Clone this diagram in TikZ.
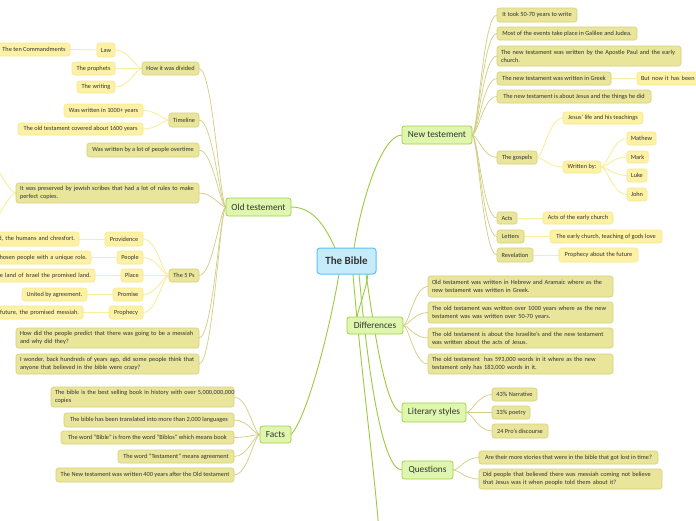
\documentclass[tikz,border=0pt]{standalone}
\usepackage{fontspec}
\setmainfont{Carlito}
\usetikzlibrary{calc,backgrounds}
\definecolor{txt}{HTML}{333333}
\definecolor{bFill}{HTML}{C6ECFB}
\definecolor{bDraw}{HTML}{5CC3EE}
\definecolor{gFill}{HTML}{DEF6AD}
\definecolor{gDraw}{HTML}{A5D14B}
\definecolor{oFill}{HTML}{E9E59B}
\definecolor{oDraw}{HTML}{D6D17A}
\definecolor{yFill}{HTML}{FDF1A6}
\definecolor{yDraw}{HTML}{F7E98F}
\definecolor{cGreen}{HTML}{9CCB3E}
\definecolor{cOlive}{HTML}{D2CD82}
\definecolor{cYel}{HTML}{F9EE9C}
\newcommand\mm[7]{\node[#1, minimum width={#5-#3}, minimum height={#6-#4}] (#2) at ({(#3+#5)/2},{(#4+#6)/2}) {#7};}
\newcommand\mmt[7]{\pgfmathsetmacro\mmw{#5-#3-8}\node[text width=\mmw pt, align=left, minimum height={#6-#4}, #1] (#2) at ({(#3+#5)/2},{(#4+#6)/2}) {#7};}
\begin{document}
\begin{tikzpicture}[x=1pt,y=-1pt,
  box/.style={rounded corners=2.5pt, outer sep=0pt, inner xsep=4pt, inner ysep=1pt, text=txt, line width=0.6pt},
  bible/.style={box, fill=bFill, draw=bDraw, line width=1pt, rounded corners=3pt, font=\fontsize{11}{13}\selectfont\bfseries},
  l1/.style={box, fill=gFill, draw=gDraw, line width=0.8pt, font=\fontsize{9.3}{11}\selectfont},
  l2/.style={box, fill=oFill, draw=oDraw, font=\fontsize{6.3}{8}\selectfont},
  l3/.style={box, fill=yFill, draw=yDraw, font=\fontsize{6.3}{8}\selectfont},
  c1/.style={draw=cGreen, line width=0.9pt},
  c2/.style={draw=cOlive, line width=0.7pt},
  c3/.style={draw=cYel, line width=0.9pt}]
\useasboundingbox (0,0) rectangle (696,520);
% centre and main branches
\mm{bible}{bible}{317}{248}{376}{274}{The Bible}
\mm{l1}{old}{226}{198}{291}{216}{Old testement}
\mm{l1}{new}{402}{126}{472}{144}{New testement}
\mm{l1}{diff}{347}{317}{403}{334}{Differences}
\mm{l1}{lit}{402}{403}{466}{422}{Literary styles}
\mm{l1}{ques}{402}{461}{453}{479}{Questions}
\mm{l1}{facts}{260}{426}{291}{443}{Facts}
% old testament
\mm{l2}{div}{142}{62}{199}{75}{How it was divided}
\mm{l2}{time}{169}{113}{199}{127}{Timeline}
\mm{l2}{many}{87}{143}{199}{157}{Was written by a lot of people overtime}
\mmt{l2}{pres}{16}{183}{199}{203}{\mbox{It was preserved by jewish scribes that had a lot of rules to make}\\perfect copies.}
\mm{l2}{fiveP}{169}{269}{199}{282}{The 5 Ps}
\mmt{l2}{pred}{16}{328}{199}{348}{\mbox{How did the people predict that there was going to be a messiah}\\and why did they?}
\mmt{l2}{wond}{16}{354}{199}{374}{\mbox{I wonder, back hundreds of years ago, did some people think that}\\anyone that believed in the bible were crazy?}
\mm{l3}{law}{97}{43}{115}{57}{Law}
\mm{l3}{tencmd}{-2}{43}{70}{56}{The ten Commandments}
\mm{l3}{proph}{72}{62}{115}{75}{The prophets}
\mm{l3}{writ}{77}{81}{115}{93}{The writing}
\mm{l3}{t1}{64}{104}{143}{117}{Was written in 1000+ years}
\mm{l3}{t2}{18}{123}{143}{135}{The old testament covered about 1600 years}
\mm{l3}{prov}{105}{232}{143}{246}{Providence}
\mm{l3}{peop}{117}{251}{143}{264}{People}
\mm{l3}{place}{121}{269}{143}{282}{Place}
\mm{l3}{prom}{113}{288}{143}{301}{Promise}
\mm{l3}{prophc}{109}{306}{143}{319}{Prophecy}
\mmt{l3, align=right}{provc}{-40}{232}{79}{246}{d, the humans and chresfort.}
\mmt{l3, align=right}{peopc}{-40}{251}{91}{264}{hosen people with a unique role.}
\mmt{l3, align=right}{placec}{-40}{269}{95}{282}{e land of Israel the promised land.}
\mm{l3}{promc}{22}{288}{87}{301}{United by agreement.}
\mmt{l3, align=right}{prophcc}{-40}{306}{83}{319}{future, the promised messiah.}
% facts
\mmt{l2}{f1}{51}{387}{234}{407}{\mbox{The bible is the best selling book in history with over 5,000,000,000}\\copies}
\mm{l2}{f2}{64}{413}{234}{427}{The bible has been translated into more than 2,000 languages}
\mm{l2}{f3}{61}{431}{234}{444}{The word "Bible" is from the word "Biblos" which means book}
\mm{l2}{f4}{118}{450}{234}{463}{The word "Testament" means agreement}
\mm{l2}{f5}{56}{468}{234}{482}{The New testament was written 400 years after the Old testament}
% new testament
\mm{l2}{n1}{497}{8}{577}{22}{It took 50-70 years to write}
\mm{l2}{n2}{497}{27}{637}{40}{Most of the events take place in Galilee and Judea.}
\mmt{l2}{n3}{497}{46}{681}{66}{\mbox{The new testament was written by the Apostle Paul and the early}\\church.}
\mm{l2}{n4}{497}{72}{611}{85}{The new testament was written in Greek}
\mmt{l3}{n4c}{637}{72}{740}{85}{But now it has been t}
\mm{l2}{n5}{497}{90}{651}{103}{The new testament is about Jesus and the things he did}
\mm{l2}{gos}{497}{151}{537}{164}{The gospels}
\mm{l3}{jes}{563}{112}{643}{124}{Jesus' life and his teachings}
\mm{l3}{wby}{563}{161}{601}{173}{Written by:}
\mm{l3}{mat}{627}{132}{656}{145}{Mathew}
\mm{l3}{mark}{627}{151}{648}{163}{Mark}
\mm{l3}{luke}{627}{169}{647}{182}{Luke}
\mm{l3}{john}{627}{188}{647}{201}{John}
\mm{l2}{acts}{497}{212}{517}{224}{Acts}
\mm{l3}{actsc}{543}{212}{613}{224}{Acts of the early church}
\mm{l2}{lett}{497}{230}{524}{243}{Letters}
\mm{l3}{lettc}{550}{230}{662}{243}{The early church, teaching of gods love}
\mm{l2}{rev}{497}{248}{533}{262}{Revelation}
\mm{l3}{revc}{559}{248}{638}{262}{Prophecy about the future}
% differences
\mmt{l2}{d1}{428}{276}{613}{297}{\mbox{Old testament was written in Hebrew and Aramaic where as the}\\new testament was written in Greek.}
\mmt{l2}{d2}{428}{302}{613}{323}{\mbox{The old testament was written over 1000 years where as the new}\\testament was was written over 50-70 years.}
\mmt{l2}{d3}{428}{328}{613}{348}{\mbox{The old testament is about the Israelite's and the new testament}\\was written about the acts of Jesus.}
\mmt{l2}{d4}{428}{354}{613}{374}{\mbox{The old testament\ \ has 593,000 words in it where as the new}\\testament only has 183,000 words in it.}
% literary styles
\mm{l2}{ls1}{492}{388}{537}{401}{43\% Narrative}
\mm{l2}{ls2}{492}{406}{530}{419}{33\% poetry}
\mm{l2}{ls3}{492}{424}{548}{438}{24 Pro's discourse}
% questions
\mm{l2}{q1}{479}{451}{658}{464}{Are their more stories that were in the bible that got lost in time?}
\mmt{l2}{q2}{479}{469}{662}{489}{\mbox{Did people that believed there was messiah coming not believe}\\that Jesus was it when people told them about it?}
\coordinate (offb) at (379,530);
\coordinate (pu) at (-12,160);
\coordinate (pd) at (-12,226);
\begin{pgfonlayer}{background}
\fill[white] (0,0) rectangle (696,520);
% centre connectors
\draw[c1] (old.east) .. controls +(22,0) and +(-10,-22) .. ($(bible.north)+(-11.5,0)$);
\draw[c1] ($(bible.north)+(7.5,0)$) .. controls +(8,-50) and +(-20,0) .. (new.west);
\draw[c1] ($(bible.south)+(-7.5,0)$) .. controls +(-10,60) and +(15,-15) .. (facts.east);
\draw[c1] ($(bible.south)+(6.5,0)$) .. controls +(7,86) and +(-7,-80) .. (offb);
\draw[c1] ($(bible.south)+(12.5,0)$) .. controls +(7,76) and +(-22,0) .. (ques.west);
\draw[c1] ($(bible.south)+(19.5,0)$) .. controls +(7,46) and +(-17,0) .. (lit.west);
\draw[c1] ($(bible.south)+(21.5,0)$) .. controls +(-2,16) and +(3,-14) .. ($(diff.north west)+(10,0)$);
% level 2
\foreach \c in {div,time,many,pres,fiveP,pred,wond}
  \draw[c2] (old.west) .. controls +(-6,0) and +(14,0) .. (\c.east);
\foreach \c in {f1,f2,f3,f4,f5}
  \draw[c2] (facts.west) .. controls +(-6,0) and +(14,0) .. (\c.east);
\foreach \c in {n1,n2,n3,n4,n5,gos,acts,lett,rev}
  \draw[c2] (new.east) .. controls +(6,0) and +(-14,0) .. (\c.west);
\foreach \c in {d1,d2,d3,d4}
  \draw[c2] (diff.east) .. controls +(6,0) and +(-14,0) .. (\c.west);
\foreach \c in {ls1,ls2,ls3}
  \draw[c2] (lit.east) .. controls +(6,0) and +(-14,0) .. (\c.west);
\foreach \c in {q1,q2}
  \draw[c2] (ques.east) .. controls +(6,0) and +(-14,0) .. (\c.west);
% level 3
\foreach \c in {law,proph,writ}
  \draw[c3] (div.west) .. controls +(-6,0) and +(14,0) .. (\c.east);
\draw[c3] (law.west) -- (tencmd.east);
\foreach \c in {t1,t2}
  \draw[c3] (time.west) .. controls +(-6,0) and +(14,0) .. (\c.east);
\foreach \c in {prov,peop,place,prom,prophc}
  \draw[c3] (fiveP.west) .. controls +(-6,0) and +(14,0) .. (\c.east);
\draw[c3] (prov.west) -- (provc.east);
\draw[c3] (peop.west) -- (peopc.east);
\draw[c3] (place.west) -- (placec.east);
\draw[c3] (prom.west) -- (promc.east);
\draw[c3] (prophc.west) -- (prophcc.east);
\draw[c3] (pres.west) .. controls +(-8,0) and +(8,0) .. (pu);
\draw[c3] (pres.west) .. controls +(-8,0) and +(8,0) .. (pd);
\draw[c3] (n4.east) -- (n4c.west);
\foreach \c in {jes,wby}
  \draw[c3] (gos.east) .. controls +(6,0) and +(-14,0) .. (\c.west);
\foreach \c in {mat,mark,luke,john}
  \draw[c3] (wby.east) .. controls +(6,0) and +(-14,0) .. (\c.west);
\draw[c3] (acts.east) -- (actsc.west);
\draw[c3] (lett.east) -- (lettc.west);
\draw[c3] (rev.east) -- (revc.west);
\end{pgfonlayer}
\end{tikzpicture}
\end{document}
